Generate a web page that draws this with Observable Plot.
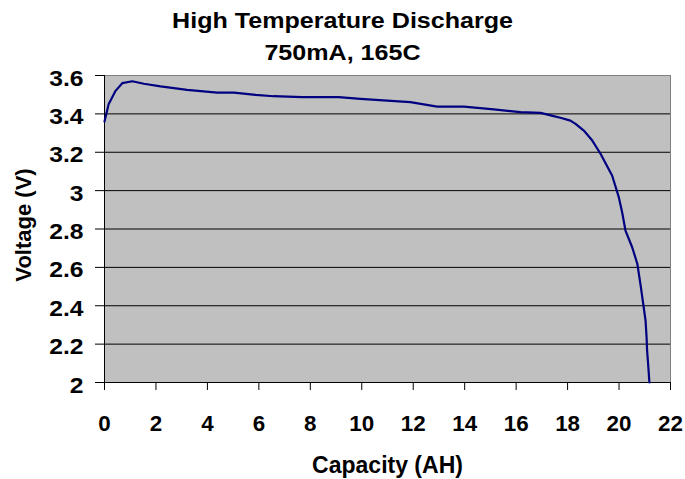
<!DOCTYPE html>
<html>
<head>
<meta charset="utf-8">
<script src="https://cdn.jsdelivr.net/npm/d3@7"></script>
<script src="https://cdn.jsdelivr.net/npm/@observablehq/plot@0.6"></script>
<style>
  body { margin: 0; background: #fff; }
  #chart { width: 685px; height: 479px; position: relative; overflow: hidden;
           font-family: "Liberation Sans", Arial, sans-serif; }
  .title { position: absolute; left: 0; width: 685px; text-align: center;
           font-weight: bold; font-size: 22px; line-height: 22px; color: #000; }
  .title span { display: inline-block; transform: scaleX(1.14); }
  #plot { position: absolute; left: 0; top: 66px; }
</style>
</head>
<body>
<div id="chart">
  <div class="title" style="top:10px"><span id="title1"></span></div>
  <div class="title" style="top:42px"><span id="title2"></span></div>
  <div id="plot"></div>
</div>
<script>
// ---- data ----
const titleLines = ["High Temperature Discharge", "750mA, 165C"];
const xLabel = "Capacity (AH)";
const yLabel = "Voltage (V)";

const capacity = [0, 0.16, 0.43, 0.69, 1.08, 1.53, 2.18, 3.21, 4.38, 5.03, 5.87, 6.57, 7.68, 9.10, 9.95,
  10.99, 11.89, 12.93, 13.97, 15.13, 16.17, 16.95, 17.46, 17.72, 18.11, 18.31, 18.63, 18.96, 19.28,
  19.73, 19.99, 20.12, 20.25, 20.51, 20.71, 20.83, 20.94, 21.03, 21.07, 21.09, 21.13, 21.18];
const voltage = [3.36, 3.45, 3.52, 3.56, 3.57, 3.557, 3.543, 3.525, 3.511, 3.511, 3.499, 3.492, 3.487,
  3.487, 3.478, 3.469, 3.461, 3.438, 3.438, 3.423, 3.409, 3.405, 3.388, 3.38, 3.365, 3.348, 3.313,
  3.261, 3.192, 3.079, 2.966, 2.887, 2.792, 2.705, 2.619, 2.514, 2.41, 2.323, 2.236, 2.167, 2.097, 2.0];

const xTicks = [0, 2, 4, 6, 8, 10, 12, 14, 16, 18, 20, 22];
const yTicks = [2, 2.2, 2.4, 2.6, 2.8, 3, 3.2, 3.4, 3.6];
const yGrid = [2.2, 2.4, 2.6, 2.8, 3, 3.2, 3.4];

const data = capacity.map((c, i) => ({capacity: c, voltage: voltage[i]}));

document.getElementById("title1").textContent = titleLines[0];
document.getElementById("title2").textContent = titleLines[1];

const fmt = d => String(Math.round(d * 10) / 10);

const chart = Plot.plot({
  width: 685,
  height: 413,
  marginTop: 9,
  marginBottom: 97,
  marginLeft: 104,
  marginRight: 15,
  style: {fontFamily: "'Liberation Sans', Arial, sans-serif", fontWeight: "bold", color: "#000",
          background: "transparent", overflow: "visible"},
  x: {domain: [0, 22]},
  y: {domain: [2, 3.6]},
  marks: [
    Plot.frame({fill: "#c0c0c0", stroke: "#808080"}),
    Plot.gridY(yGrid, {stroke: "#000", strokeOpacity: 1}),
    Plot.ruleX([0], {stroke: "#000"}),
    Plot.ruleY([2], {stroke: "#000"}),
    Plot.axisX(xTicks, {tickSize: 8, tickPadding: 25, fontSize: 21.5, label: null, tickFormat: fmt}),
    Plot.axisY(yTicks, {tickSize: 9, label: null, tickFormat: () => ""}),
    Plot.axisY(yTicks, {tickSize: 0, tickPadding: 21, dy: 3, fontSize: 22, label: null, tickFormat: fmt}),
    Plot.line(data, {x: "capacity", y: "voltage", stroke: "#000080", strokeWidth: 2.2}),
    Plot.text([xLabel], {frameAnchor: "bottom", lineAnchor: "middle", textAnchor: "middle", dy: 83,
                         fontSize: 23, fontWeight: "bold", ariaLabel: "xtitle"}),
    Plot.text([yLabel], {frameAnchor: "left", textAnchor: "middle", lineAnchor: "middle", dx: -81, dy: -4,
                         rotate: -90, fontSize: 22, fontWeight: "bold", ariaLabel: "ytitle"})
  ]
});
document.getElementById("plot").appendChild(chart);

function stretch(selector, k) {
  chart.querySelectorAll(selector).forEach(t => {
    const w = t.getComputedTextLength();
    if (w > 0) {
      t.setAttribute("textLength", w * k);
      t.setAttribute("lengthAdjust", "spacingAndGlyphs");
    }
  });
}
stretch('g[aria-label="x-axis tick label"] text', 1.04);
stretch('g[aria-label="y-axis tick label"] text', 1.12);
stretch('g[aria-label="xtitle"] text', 1.1);
</script>
</body>
</html>
